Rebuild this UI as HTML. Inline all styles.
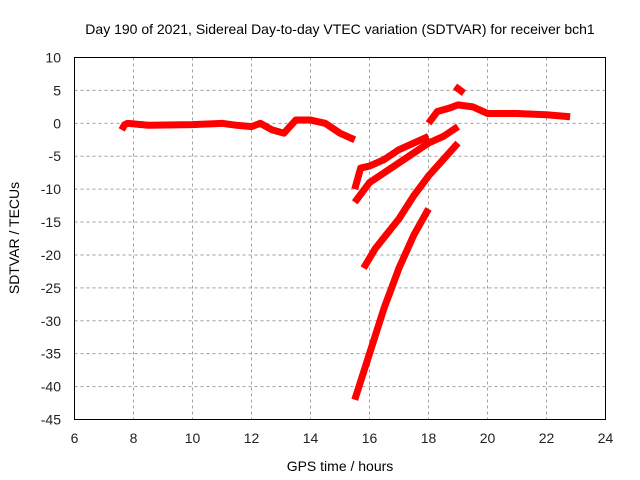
<!DOCTYPE html>
<html><head><meta charset="utf-8"><style>
body{margin:0;background:#fff}
svg{display:block;font-family:"Liberation Sans",sans-serif}
</style></head><body>
<svg id="c" width="640" height="480" viewBox="0 0 640 480">
<text x="340" y="34" font-size="14" text-anchor="middle">Day 190 of 2021, Sidereal Day-to-day VTEC variation (SDTVAR) for receiver bch1</text>
<text x="340" y="471" font-size="14" text-anchor="middle">GPS time / hours</text>
<text transform="translate(19,238) rotate(-90)" font-size="14" text-anchor="middle">SDTVAR / TECUs</text>
<g id="grid"></g><g id="ticks"></g><g id="data"></g>
<rect x="74.5" y="57.5" width="531" height="362" fill="none" stroke="#000"/>
</svg>
<script>
const xTicks=[6,8,10,12,14,16,18,20,22,24];
const yTicks=[10,5,0,-5,-10,-15,-20,-25,-30,-35,-40,-45];
const trackMain=[[7.6,-1],[7.7,-0.2],[7.8,0],[8.5,-0.3],[10,-0.2],[11,0],[11.5,-0.3],[12,-0.5],[12.3,0],[12.7,-1],[13.1,-1.5],[13.5,0.5],[14,0.5],[14.5,0],[15,-1.5],[15.5,-2.5]];
const trackA=[[15.5,-10],[15.7,-6.8],[16,-6.5],[16.5,-5.5],[17,-4],[17.5,-3],[18,-2]];
const trackB=[[15.5,-12],[16,-9],[16.5,-7.5],[17,-6],[17.5,-4.5],[18,-3],[18.5,-2],[19,-0.5]];
const trackC=[[15.8,-22],[16.2,-19],[17,-14.5],[17.5,-11],[18,-8],[18.5,-5.5],[19,-3]];
const trackD=[[15.5,-42],[16,-35],[16.5,-28],[17,-22],[17.5,-17],[18,-13]];
const trackE=[[18,0],[18.3,1.8],[18.7,2.3],[19,2.8],[19.5,2.5],[20,1.5],[21,1.5],[22,1.3],[22.8,1]];
const trackF=[[18.9,5.6],[19.2,4.6]];
const tracks=[trackMain,trackA,trackB,trackC,trackD,trackE,trackF];
const NS="http://www.w3.org/2000/svg";
const X=v=>74.5+(v-6)/18*531, Y=v=>57.5+(10-v)/55*362;
const g=document.getElementById('grid'),t=document.getElementById('ticks'),d=document.getElementById('data');
function mk(tag,a,p){const e=document.createElementNS(NS,tag);for(const k in a)e.setAttribute(k,a[k]);p.appendChild(e);return e;}
xTicks.forEach(v=>{
 if(v>6&&v<24){const l=mk('line',{x1:X(v),x2:X(v),y1:57.5,y2:419.5,stroke:'#a0a0a0','stroke-dasharray':'3,3'},g);
 
 }
 const s=mk('text',{x:X(v),y:443,'font-size':14,'text-anchor':'middle',fill:'#222'},t);s.textContent=v;
 
 
});
yTicks.forEach(v=>{
 if(v<10&&v>-45){const l=mk('line',{x1:74.5,x2:605.5,y1:Y(v),y2:Y(v),stroke:'#a0a0a0','stroke-dasharray':'3,3'},g);
 
 }
 const s=mk('text',{x:61,y:Y(v)+5,'font-size':14,'text-anchor':'end',fill:'#222'},t);s.textContent=v;
 
 
});
tracks.forEach((tr,i)=>{
 const p=mk('polyline',{points:tr.map(q=>X(q[0])+','+Y(q[1])).join(' '),fill:'none',stroke:'#ff0000','stroke-width':7,'stroke-linejoin':'round','stroke-linecap':'butt'},d);
 
 
});
</script>
</body></html>
